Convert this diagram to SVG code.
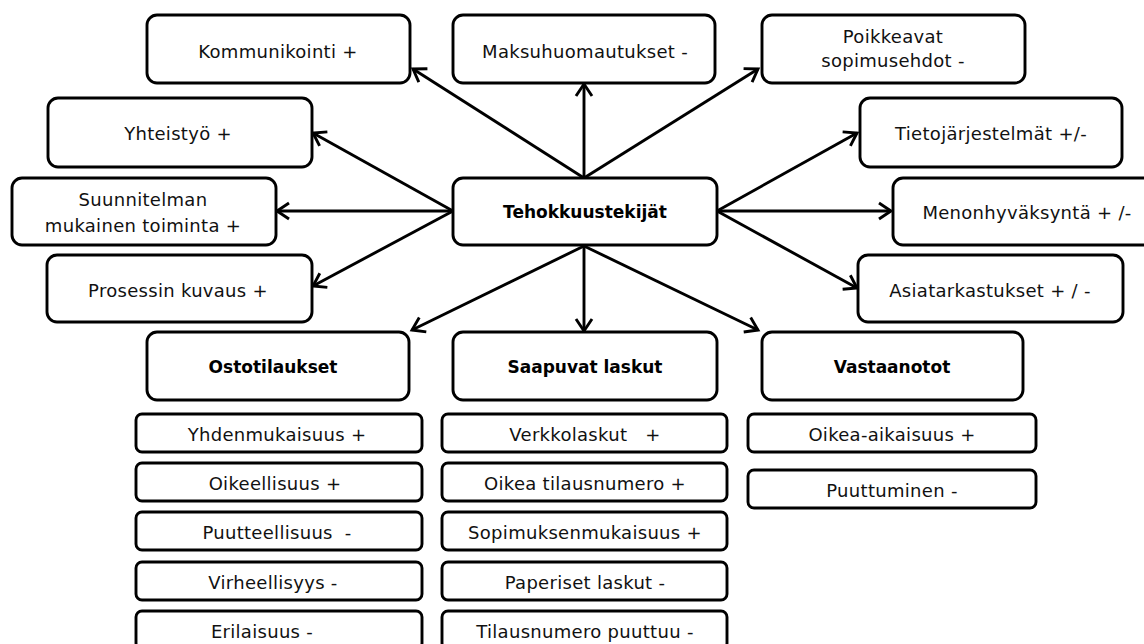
<svg xmlns="http://www.w3.org/2000/svg" width="1144" height="644" viewBox="0 0 1144 644">
  <style>
    .box { fill: #fff; stroke: #000; stroke-width: 2.9; }
    .t { font-family: "DejaVu Sans", "Liberation Sans", sans-serif; font-size: 18px; letter-spacing: 0.3px; fill: #111; text-anchor: middle; white-space: pre; }
    .b { font-family: "DejaVu Sans", "Liberation Sans", sans-serif; font-size: 17px; font-weight: bold; fill: #000; text-anchor: middle; }
    .link { fill: none; stroke: #000; stroke-width: 2.9; marker-end: url(#arrow); }
  </style>
  <defs>
    <marker id="arrow" viewBox="0 0 20 20" markerWidth="20" markerHeight="20" refX="15" refY="10" orient="auto" markerUnits="userSpaceOnUse">
      <path d="M3,2 L15,10 L3,18" fill="none" stroke="#000" stroke-width="2.9" stroke-linejoin="miter"/>
    </marker>
  </defs>
  <rect width="1144" height="644" fill="#fff"/>

  <!-- connectors -->
  <g id="connectors">
    <line class="link" x1="584" y1="178" x2="584" y2="84"/>
    <line class="link" x1="584" y1="178" x2="413" y2="69"/>
    <line class="link" x1="584" y1="178" x2="758" y2="69"/>
    <line class="link" x1="453" y1="211" x2="313" y2="133"/>
    <line class="link" x1="453" y1="211" x2="277" y2="211"/>
    <line class="link" x1="453" y1="211" x2="313" y2="286"/>
    <line class="link" x1="717" y1="211" x2="857" y2="133"/>
    <line class="link" x1="717" y1="211" x2="891" y2="211"/>
    <line class="link" x1="717" y1="211" x2="857" y2="288"/>
    <line class="link" x1="584" y1="246" x2="412" y2="330"/>
    <line class="link" x1="584" y1="246" x2="584" y2="331"/>
    <line class="link" x1="584" y1="246" x2="758" y2="330"/>
  </g>

  <!-- central node -->
  <g id="tehokkuustekijat">
    <rect class="box" x="453" y="178" width="264" height="67" rx="10"/>
    <text class="b" x="585" y="218">Tehokkuustekijät</text>
  </g>

  <!-- surrounding factors -->
  <g id="kommunikointi">
    <rect class="box" x="147" y="15" width="263" height="68" rx="10"/>
    <text class="t" x="278" y="58">Kommunikointi +</text>
  </g>
  <g id="maksuhuomautukset">
    <rect class="box" x="453" y="15" width="262" height="68" rx="10"/>
    <text class="t" x="585" y="58">Maksuhuomautukset -</text>
  </g>
  <g id="poikkeavat">
    <rect class="box" x="762" y="15" width="263" height="68" rx="10"/>
    <text class="t" x="893" y="43">Poikkeavat</text>
    <text class="t" x="893" y="67">sopimusehdot -</text>
  </g>
  <g id="yhteistyo">
    <rect class="box" x="48" y="98" width="264" height="69" rx="10"/>
    <text class="t" x="178" y="140">Yhteistyö +</text>
  </g>
  <g id="tietojarjestelmat">
    <rect class="box" x="860" y="98" width="262" height="69" rx="10"/>
    <text class="t" x="991" y="140">Tietojärjestelmät +/-</text>
  </g>
  <g id="suunnitelman">
    <rect class="box" x="12" y="178" width="264" height="67" rx="10"/>
    <text class="t" x="143" y="206">Suunnitelman</text>
    <text class="t" x="143" y="232">mukainen toiminta +</text>
  </g>
  <g id="menonhyvaksynta">
    <rect class="box" x="893" y="178" width="264" height="67" rx="10"/>
    <text class="t" x="1027" y="219">Menonhyväksyntä + /-</text>
  </g>
  <g id="prosessin">
    <rect class="box" x="47" y="255" width="265" height="67" rx="10"/>
    <text class="t" x="178" y="297">Prosessin kuvaus +</text>
  </g>
  <g id="asiatarkastukset">
    <rect class="box" x="858" y="255" width="265" height="67" rx="10"/>
    <text class="t" x="990" y="297">Asiatarkastukset + / -</text>
  </g>

  <!-- process areas -->
  <g id="ostotilaukset">
    <rect class="box" x="147" y="332" width="262" height="68" rx="10"/>
    <text class="b" x="273" y="373">Ostotilaukset</text>
  </g>
  <g id="saapuvat">
    <rect class="box" x="453" y="332" width="264" height="68" rx="10"/>
    <text class="b" x="585" y="373">Saapuvat laskut</text>
  </g>
  <g id="vastaanotot">
    <rect class="box" x="762" y="332" width="261" height="68" rx="10"/>
    <text class="b" x="892" y="373">Vastaanotot</text>
  </g>

  <!-- purchase order items -->
  <g id="ost-1"><rect class="box" x="136" y="414" width="286" height="38" rx="6"/><text class="t" x="277" y="441">Yhdenmukaisuus +</text></g>
  <g id="ost-2"><rect class="box" x="136" y="463" width="286" height="38" rx="6"/><text class="t" x="275" y="490">Oikeellisuus +</text></g>
  <g id="ost-3"><rect class="box" x="136" y="512" width="286" height="38" rx="6"/><text class="t" x="277" y="539">Puutteellisuus  -</text></g>
  <g id="ost-4"><rect class="box" x="136" y="562" width="286" height="38" rx="6"/><text class="t" x="273" y="589">Virheellisyys -</text></g>
  <g id="ost-5"><rect class="box" x="136" y="611" width="286" height="38" rx="6"/><text class="t" x="262" y="638">Erilaisuus -</text></g>

  <!-- incoming invoice items -->
  <g id="saa-1"><rect class="box" x="442" y="414" width="285" height="38" rx="6"/><text class="t" x="585" y="441">Verkkolaskut   +</text></g>
  <g id="saa-2"><rect class="box" x="442" y="463" width="285" height="38" rx="6"/><text class="t" x="585" y="490">Oikea tilausnumero +</text></g>
  <g id="saa-3"><rect class="box" x="442" y="512" width="285" height="38" rx="6"/><text class="t" x="585" y="539">Sopimuksenmukaisuus +</text></g>
  <g id="saa-4"><rect class="box" x="442" y="562" width="285" height="38" rx="6"/><text class="t" x="585" y="589">Paperiset laskut -</text></g>
  <g id="saa-5"><rect class="box" x="442" y="611" width="285" height="38" rx="6"/><text class="t" x="585" y="638">Tilausnumero puuttuu -</text></g>

  <!-- goods receipt items -->
  <g id="vas-1"><rect class="box" x="748" y="414" width="288" height="38" rx="6"/><text class="t" x="892" y="441">Oikea-aikaisuus +</text></g>
  <g id="vas-2"><rect class="box" x="748" y="470" width="288" height="38" rx="6"/><text class="t" x="892" y="497">Puuttuminen -</text></g>
</svg>
